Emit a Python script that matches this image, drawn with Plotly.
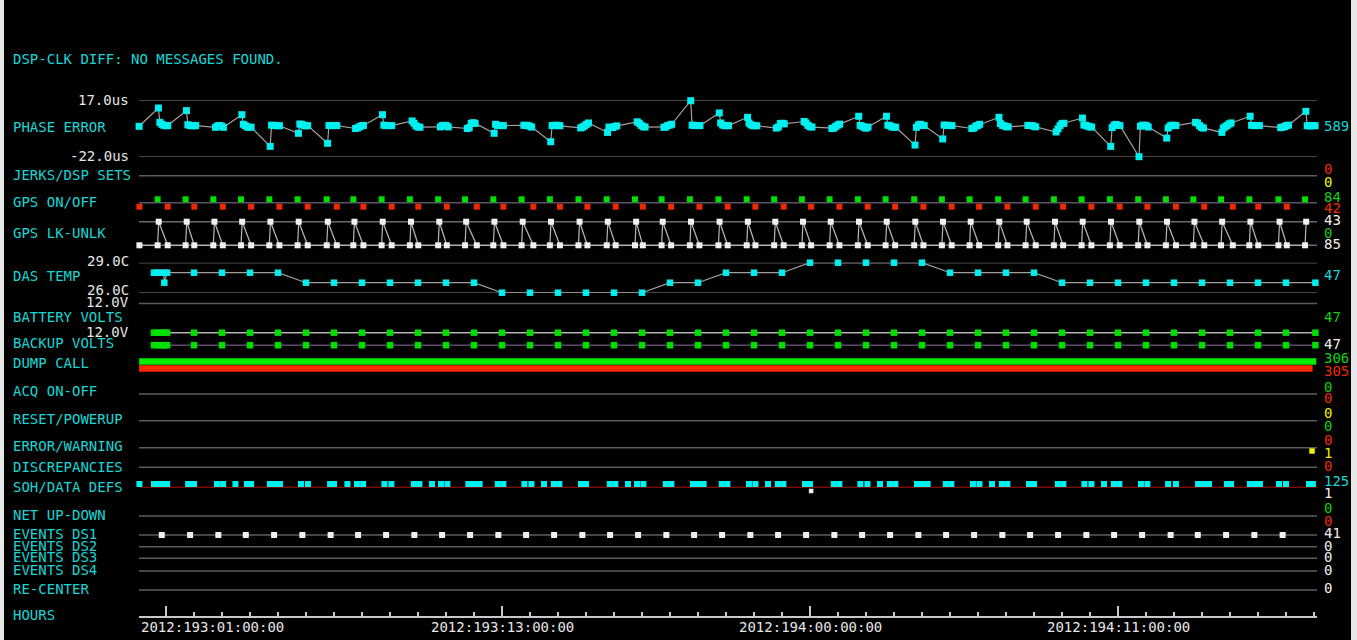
import plotly.graph_objects as go

# ---------------- data (hours since 2012:193:00:00:00) ----------------
TICK_HOURS = [1, 13, 24, 35]
TICK_LABELS = ["2012:193:01:00:00", "2012:193:13:00:00",
               "2012:194:00:00:00", "2012:194:11:00:00"]

PE_FIRST_HOUR = 0.04
PE_FIRST_VALUE = -1.1
GPS_ON = [0.70, 1.70, 2.69, 3.68, 4.69, 5.70, 6.74, 7.69, 8.70, 9.71, 10.72,
          11.68, 12.69, 13.70, 14.71, 15.73, 16.74, 17.75, 18.70, 19.71, 20.73,
          21.74, 22.72, 23.71, 24.70, 25.71, 26.70, 27.72, 28.71, 29.70, 30.72,
          31.70, 32.71, 33.70, 34.71, 35.72, 36.71, 37.69, 38.68, 39.69, 40.73,
          41.68]
GPS_OFF = [0.05, 1.06, 2.01, 3.03, 4.04, 5.05, 6.06, 7.10, 8.05, 9.06, 10.01,
           11.03, 12.10, 13.05, 14.12, 15.07, 16.05, 17.06, 18.03, 19.04, 20.05,
           21.06, 22.05, 23.06, 24.04, 25.05, 26.06, 27.04, 28.05, 29.06, 30.04,
           31.05, 32.06, 33.04, 34.05, 35.06, 36.05, 37.07, 38.08, 39.10, 40.01,
           41.03]
GPS_LOCK = [0.74, 1.74, 2.73, 3.72, 4.73, 5.74, 6.78, 7.73, 8.74, 9.75, 10.76,
            11.72, 12.73, 13.74, 14.75, 15.77, 16.78, 17.79, 18.74, 19.75, 20.77,
            21.78, 22.76, 23.75, 24.74, 25.75, 26.74, 27.76, 28.75, 29.74, 30.76,
            31.74, 32.75, 33.74, 34.75, 35.76, 36.75, 37.73, 38.72, 39.73, 40.77,
            41.72]

# phase error (us): one outlier (or None) and the cluster values for each GPS-on period
PE_SPIKE = [11.5, 9.7, None, 6.9, -14.9, -5.9, -12.8, None, 6.9, None, None,
            None, -5.9, None, -11.7, None, -5.3, None, None, 16.5, 8.1,
            5.1, None, None, None, 5.8, 5.8, -14.0, -9.8, None, 5.1,
            None, None, 4.6, -14.9, -22.0, -9.2, None, -5.3, 5.8, None,
            9.2]
PE_CLUSTER = [
    [1.6, 0.3, -0.4, -0.7, -0.6], [0.0, -0.5, -0.7, -0.7, -0.6],
    [-1.8, -0.9, -0.6, -0.9, -1.8], [0.3, -0.6, -1.5, -1.8, -1.7],
    [-0.3, -0.6, -0.5, -0.7, -0.7], [0.5, 0.2, -0.4, -0.8, -0.6],
    [-0.5, -0.6, -0.6, -0.5, -0.6], [-2.6, -2.2, -1.5, -0.8, -0.5],
    [-0.3, -0.6, -0.6, -0.6, -0.6], [2.6, 1.0, -0.8, -1.6, -1.7],
    [-1.5, -0.6, -0.4, -0.6, -1.5], [-2.6, -2.0, 0.9, 1.4, 0.9],
    [0.3, -0.4, -0.6, -0.6, -0.6], [-0.4, -0.4, -0.6, -1.0, -1.6],
    [-0.6, -0.6, -0.3, -0.6, -0.7], [-2.2, -1.6, -0.8, 0.3, 1.2],
    [-1.6, -1.9, -2.0, -1.2, -0.8], [2.0, 1.0, -0.4, -1.4, -1.6],
    [-1.8, -1.5, -0.6, -0.2, 0.3], [-0.3, -0.5, -0.6, -0.6, -0.6],
    [1.2, -0.2, -0.6, -0.7, -0.6], [1.2, 0.0, -0.6, -0.7, -0.7],
    [-2.3, -1.6, 0.8, 1.0, 0.6], [2.2, 1.2, -0.5, -1.4, -1.6],
    [-2.6, -2.3, -1.2, -0.2, 0.4], [-0.5, -1.0, -1.8, -2.4, -1.6],
    [-0.3, -0.6, -1.5, -1.7, -1.7], [-1.8, -0.2, 0.3, -0.4, -0.6],
    [-0.2, -0.5, -0.4, -0.6, -0.6], [-2.6, -2.3, -1.0, -0.5, 0.3],
    [0.8, -0.4, -0.8, -1.3, -1.5], [-0.5, -0.5, -0.6, -1.0, -1.5],
    [-5.0, -2.8, -0.6, 0.8, 1.0], [-0.2, -0.5, -1.0, -1.5, -1.6],
    [-2.0, -0.3, 0.2, -0.4, -0.6], [-1.0, -0.4, -0.3, -0.6, -1.6],
    [-2.3, -0.8, -0.3, -0.5, -0.6], [1.6, 1.2, -0.6, -1.8, -2.3],
    [-2.3, -1.4, -0.5, 0.6, 1.2], [-0.4, -0.6, -0.6, -0.6, -0.6],
    [-2.0, -1.7, -1.3, -0.6, -0.3], [-0.7, -0.8, -0.7, -0.6, -0.7],
]
PE_SPIKE_OFFSET = 0.03
PE_CLUSTER_OFFSETS = [0.08, 0.15, 0.22, 0.29, 0.36]

TEMP_HOURS = [0.57, 0.68, 0.80, 0.92, 0.94, 1.04,
              2, 3, 4, 5, 6, 7, 8, 9, 10, 11, 12, 13, 14, 15, 16, 17, 18, 19,
              20, 21, 22, 23, 24, 25, 26, 27, 28, 29, 30, 31, 32, 33, 34, 35,
              36, 37, 38, 39, 40, 41, 42.05]
TEMP_C = [28, 28, 28, 28, 27, 28,
          28, 28, 28, 28, 27, 27, 27, 27, 27, 27, 27, 26, 26, 26, 26, 26, 26,
          27, 27, 28, 28, 28, 29, 29, 29, 29, 29, 28, 28, 28, 28, 27, 27, 27,
          27, 27, 27, 27, 27, 27, 27]
BATTERY_V = [12.0] * len(TEMP_HOURS)
BACKUP_V = [12.0] * len(TEMP_HOURS)

DUMP_ON_SPAN = [0.04, 42.08]
DUMP_OFF_SPAN = [0.04, 41.95]

WARNING_HOURS = [41.93]
SOH_HOURS = [0.05, 0.57, 0.75, 0.92, 1.04, 1.79, 2.00, 2.82, 3.04, 3.48, 3.89,
             4.04, 4.71, 4.89, 5.07, 5.82, 6.07, 6.86, 7.00, 7.48,
             7.82, 8.04, 8.80, 9.05, 9.85, 10.05, 10.50, 10.82, 11.05, 11.80,
             12.00, 12.20, 12.85, 13.05, 13.80, 14.05, 14.50, 14.85, 15.05,
             15.82, 16.00, 16.85, 17.05, 17.50, 17.82, 18.05, 18.85, 19.05,
             19.82, 20.00, 20.20, 20.85, 21.05, 21.82, 22.05, 22.50, 22.85,
             23.05, 23.82, 24.00, 24.85, 25.05, 25.80, 26.05, 26.50, 26.85,
             27.05, 27.82, 28.00, 28.20, 28.85, 29.05, 29.82, 30.05, 30.50,
             30.85, 31.05, 31.82, 32.00, 32.85, 33.05, 33.80, 34.05, 34.50,
             34.85, 35.05, 35.82, 36.05,
             36.79, 37.07, 37.86, 38.05, 38.25, 38.89, 39.04, 39.71, 39.90,
             40.07, 40.75, 41.00, 41.82, 41.96]
SOH_SINGLE_HOURS = [24.04]
EVENTS_DS1 = [0.85, 1.86, 2.87, 3.85, 4.86, 5.87, 6.88, 7.86, 8.86, 9.87, 10.86,
              11.86, 12.87, 13.86, 14.86, 15.87, 16.86, 17.86, 18.87, 19.86,
              20.86, 21.87, 22.86, 23.86, 24.87, 25.86, 26.86, 27.87, 28.86,
              29.86, 30.87, 31.86, 32.86, 33.87, 34.86, 35.86, 36.88, 37.85,
              38.86, 39.87, 40.88]

PE_TOP, PE_BOTTOM = 17.0, -22.0
TEMP_TOP, TEMP_BOTTOM = 29.0, 26.0

LEFT_LABELS = ["DSP-CLK DIFF: NO MESSAGES FOUND.", "PHASE ERROR", "JERKS/DSP SETS",
               "GPS ON/OFF", "GPS LK-UNLK", "DAS TEMP", "BATTERY VOLTS",
               "BACKUP VOLTS", "DUMP CALL", "ACQ ON-OFF", "RESET/POWERUP",
               "ERROR/WARNING", "DISCREPANCIES", "SOH/DATA DEFS", "NET UP-DOWN",
               "EVENTS DS1", "EVENTS DS2", "EVENTS DS3", "EVENTS DS4",
               "RE-CENTER", "HOURS"]
SCALE_LABELS = ["17.0us", "-22.0us", "29.0C", "26.0C", "12.0V", "12.0V"]
COUNT_LABELS = ["589", "0", "0", "84", "42", "43", "0", "85", "47", "47", "47",
                "306", "305", "0", "0", "0", "0", "0", "1", "0", "125", "1",
                "0", "0", "41", "0", "0", "0", "0"]

# ---------------- layout / style constants ----------------
W, H = 1357, 640
PX_PER_HOUR = 28.0
def hour_at_px(px):
    return 1.0 + (px - 166.0) / PX_PER_HOUR
T0, T1 = hour_at_px(139), hour_at_px(1317)

CYAN_TXT = "#19d6d6"
CYAN = "#00f0f0"
GREEN = "#00e000"
GREEN_TXT = "#10d010"
RED = "#f02800"
YELLOW = "#f0f000"
WHITE = "#f0f0f0"
GRAYTXT = "#e6e6e6"
BASE = "#5c5c5c"
FONT = "DejaVu Sans Mono"

LEFT_Y = [59, 126.7, 175, 202.3, 232.7, 275.7, 316.7, 343, 363, 391, 419, 446,
          466.7, 486.7, 515, 534, 545.7, 556.7, 570, 589, 615]
SCALE_Y = [100, 155.7, 261, 290, 302, 331.7]
COUNT_Y = [126, 169.3, 181.7, 196.7, 208.3, 220, 233.3, 244.3, 275, 316.7, 344,
           358.3, 371, 386.7, 398.3, 413.3, 425.7, 440, 453.3, 466, 480.7, 492.7,
           508.3, 521, 533.3, 546, 556.7, 570, 588.3]
COUNT_COLORS = [CYAN_TXT, RED, YELLOW, GREEN_TXT, RED, WHITE, GREEN_TXT, WHITE,
                CYAN_TXT, GREEN_TXT, WHITE, GREEN_TXT, RED, GREEN_TXT, RED,
                YELLOW, GREEN_TXT, RED, YELLOW, RED, CYAN_TXT, WHITE, GREEN_TXT,
                RED, WHITE, WHITE, WHITE, WHITE, WHITE]

Y_GPS_ON, Y_GPS_OFF, Y_GPS_LINE = 199.3, 206.7, 202.8
Y_LK_HI, Y_LK_LO = 221.7, 245.3
Y_BATT_TOP, Y_BATT, Y_BACKUP = 303.5, 332.7, 345.2
Y_DUMP_ON, Y_DUMP_OFF = 361.5, 368.5
Y_WARN = 451
Y_SOH, Y_SOH_LINE, Y_SOH_SINGLE = 484, 487.3, 491
Y_DS1 = 535
BASELINES = [(175.7, BASE), (Y_GPS_LINE, "#5a5566"), (Y_LK_HI, "#6a6a6a"),
             (Y_LK_LO, "#6a6a6a"), (Y_BATT_TOP, BASE), (394, BASE), (420.7, BASE),
             (447.7, BASE), (467.3, BASE), (Y_SOH_LINE, "#7a0a0a"), (516, BASE),
             (Y_DS1, BASE), (546.7, BASE), (558.3, BASE), (571, BASE), (590, BASE)]

def paper_y(px):
    return (H - px) / H

fig = go.Figure()

def add(**kw):
    kw.setdefault("showlegend", False)
    kw.setdefault("hoverinfo", "skip")
    kw.setdefault("cliponaxis", False)
    fig.add_trace(go.Scatter(**kw))

sq = lambda c, s=6: dict(symbol="square", size=s, color=c, line=dict(width=0))

# baselines on the pixel-row canvas
for yy, col in BASELINES:
    add(x=[T0, T1], y=[yy, yy], mode="lines", line=dict(color=col, width=1.6))
# phase error / temperature frame lines
for v in (PE_TOP, PE_BOTTOM):
    add(x=[T0, T1], y=[v, v], yaxis="y2", mode="lines", line=dict(color=BASE, width=1.6))
for v in (TEMP_TOP, TEMP_BOTTOM):
    add(x=[T0, T1], y=[v, v], yaxis="y3", mode="lines", line=dict(color=BASE, width=1.6))

# phase error series
pe_x, pe_y = [PE_FIRST_HOUR], [PE_FIRST_VALUE]
for on, spike, vals in zip(GPS_ON, PE_SPIKE, PE_CLUSTER):
    if spike is not None:
        pe_x.append(on + PE_SPIKE_OFFSET)
        pe_y.append(spike)
    for off, v in zip(PE_CLUSTER_OFFSETS, vals):
        pe_x.append(on + off)
        pe_y.append(v)
add(x=pe_x, y=pe_y, yaxis="y2", mode="lines+markers",
    line=dict(color="#a89e9e", width=1.2), marker=sq(CYAN, 7))

# GPS on/off
add(x=GPS_ON, y=[Y_GPS_ON] * len(GPS_ON), mode="markers", marker=sq(GREEN, 6))
add(x=GPS_OFF, y=[Y_GPS_OFF] * len(GPS_OFF), mode="markers", marker=sq(RED, 6))

# GPS lock / unlock
events = sorted([(h, Y_LK_LO) for h in GPS_OFF + GPS_ON] + [(h, Y_LK_HI) for h in GPS_LOCK])
add(x=[e[0] for e in events], y=[e[1] for e in events], mode="lines+markers",
    line=dict(color="#b8b8b8", width=1.2), marker=sq(WHITE, 6))

# DAS temperature
add(x=TEMP_HOURS, y=TEMP_C, yaxis="y3", mode="lines+markers",
    line=dict(color="#a0a0a0", width=1.2), marker=sq(CYAN, 6.5))

# battery / backup volts (constant 12.0 V, drawn on their rows)
add(x=TEMP_HOURS, y=[Y_BATT] * len(BATTERY_V), mode="lines+markers",
    line=dict(color="#b4b4b4", width=1.6), marker=sq(GREEN, 6.5))
add(x=TEMP_HOURS, y=[Y_BACKUP] * len(BACKUP_V), mode="lines+markers",
    line=dict(color="#5e4a6a", width=1.6), marker=sq(GREEN, 6.5))

# dump call
add(x=DUMP_ON_SPAN, y=[Y_DUMP_ON] * 2, mode="lines", line=dict(color="#00ee00", width=6.5))
add(x=DUMP_OFF_SPAN, y=[Y_DUMP_OFF] * 2, mode="lines", line=dict(color="#ff2a00", width=6.5))

# error / warning
add(x=WARNING_HOURS, y=[Y_WARN], mode="markers", marker=sq(YELLOW, 5.5))

# SOH / data defs
add(x=SOH_HOURS, y=[Y_SOH] * len(SOH_HOURS), mode="markers", marker=sq(CYAN, 6))
add(x=SOH_SINGLE_HOURS, y=[Y_SOH_SINGLE], mode="markers", marker=sq(WHITE, 4.5))

# events DS1
add(x=EVENTS_DS1, y=[Y_DS1] * len(EVENTS_DS1), mode="markers", marker=sq(WHITE, 6))

ann = []
for t, yy in zip(LEFT_LABELS, LEFT_Y):
    ann.append(dict(text=t, x=11 / W, xref="paper", y=yy, yref="y", xanchor="left",
                    yanchor="middle", showarrow=False, font=dict(family=FONT, size=14, color=CYAN_TXT)))
for t, yy in zip(SCALE_LABELS, SCALE_Y):
    ann.append(dict(text=t, x=131 / W, xref="paper", y=yy, yref="y", xanchor="right",
                    yanchor="middle", showarrow=False, font=dict(family=FONT, size=14, color=GRAYTXT)))
for t, yy, c in zip(COUNT_LABELS, COUNT_Y, COUNT_COLORS):
    ann.append(dict(text=t, x=1322 / W, xref="paper", y=yy, yref="y", xanchor="left",
                    yanchor="middle", showarrow=False, font=dict(family=FONT, size=14, color=c)))
for i, (h, t) in enumerate(zip(TICK_HOURS, TICK_LABELS)):
    ann.append(dict(text=t, x=T0 if i == 0 else h, xref="x", y=627, yref="y",
                    xanchor="left" if i == 0 else "center", yanchor="middle",
                    showarrow=False, font=dict(family=FONT, size=14, color=GRAYTXT)))

shapes = [
    dict(type="rect", xref="paper", yref="paper", x0=0, x1=4 / W, y0=0, y1=1,
         fillcolor="#e8e8e8", line=dict(width=0), layer="below"),
    dict(type="rect", xref="paper", yref="paper", x0=1351 / W, x1=1, y0=0, y1=1,
         fillcolor="#e8e8e8", line=dict(width=0), layer="below"),
]

fig.update_layout(
    width=W, height=H, margin=dict(l=0, r=0, t=0, b=0),
    paper_bgcolor="black", plot_bgcolor="black",
    annotations=ann, shapes=shapes,
    xaxis=dict(domain=[139 / W, 1317 / W], range=[T0, T1], anchor="free",
               position=paper_y(617), showgrid=False, zeroline=False,
               showline=True, linecolor="#c8c8c8", linewidth=2,
               tickmode="array", tickvals=TICK_HOURS, showticklabels=False,
               ticks="inside", ticklen=10, tickwidth=1.5, tickcolor="#c8c8c8",
               minor=dict(tickmode="array", tickvals=list(range(0, 43)),
                          ticks="inside", ticklen=4, tickwidth=1.5, tickcolor="#c8c8c8")),
    yaxis=dict(domain=[0, 1], range=[H, 0], visible=False, showgrid=False),
    yaxis2=dict(domain=[paper_y(156.7), paper_y(100)], range=[PE_BOTTOM, PE_TOP],
                anchor="x", visible=False, showgrid=False),
    yaxis3=dict(domain=[paper_y(292.7), paper_y(262.7)], range=[TEMP_BOTTOM, TEMP_TOP],
                anchor="x", visible=False, showgrid=False),
)

fig.write_html("out.html", config={"displayModeBar": False},
               post_script="document.body.style.margin='0';document.body.style.overflow='hidden';")
